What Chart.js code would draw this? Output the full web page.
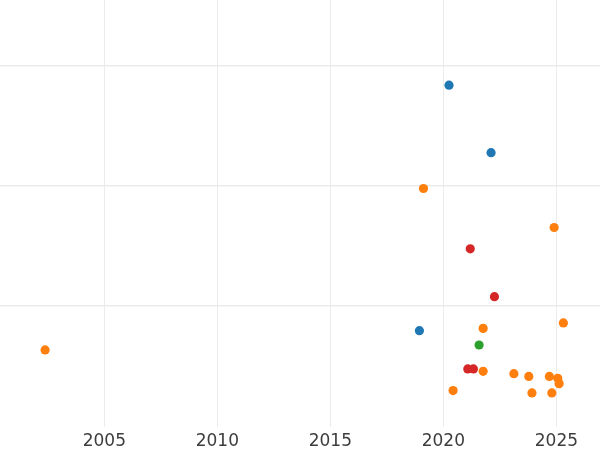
<!DOCTYPE html>
<html>
<head>
<meta charset="utf-8">
<script src="https://cdn.jsdelivr.net/npm/chart.js@4"></script>
<style>
  html, body { margin: 0; padding: 0; background: #fff; }
  #wrap { width: 600px; height: 450px; }
</style>
</head>
<body>
<div id="wrap"><canvas id="chart"></canvas></div>
<script>
// series values (x = year, y = value in arbitrary units)
const blueX = [2020.25, 2022.11, 2018.94];
const blueY = [2.836, 2.276, 0.797];

const orangeX = [2019.12, 2024.90, 2002.38, 2021.76, 2025.31, 2021.76, 2023.12, 2023.78, 2024.69, 2025.06, 2025.12, 2020.43, 2023.92, 2024.80];
const orangeY = [1.978, 1.654, 0.637, 0.816, 0.861, 0.459, 0.440, 0.417, 0.417, 0.401, 0.357, 0.299, 0.280, 0.280];

const redX = [2021.19, 2022.26, 2021.08, 2021.33];
const redY = [1.477, 1.079, 0.479, 0.479];

const greenX = [2021.58];
const greenY = [0.678];

// tick labels
const xTicks = [2005, 2010, 2015, 2020, 2025];
const yTicks = [1, 2, 3];

const toPoints = (xs, ys) => xs.map((x, i) => ({ x: x, y: ys[i] }));

const makeSet = (label, xs, ys, color) => ({
    label: label,
    data: toPoints(xs, ys),
    backgroundColor: color,
    borderWidth: 0,
    pointRadius: 4.6,
    pointHoverRadius: 4.6
});

const data = {
    datasets: [
        makeSet('blue', blueX, blueY, '#1f77b4'),
        makeSet('orange', orangeX, orangeY, '#ff7f0e'),
        makeSet('red', redX, redY, '#d62728'),
        makeSet('green', greenX, greenY, '#2ca02c')
    ]
};

const config = {
    type: 'scatter',
    data: data,
    options: {
        responsive: true,
        maintainAspectRatio: false,
        animation: false,
        layout: { autoPadding: false, padding: { left: 0, right: 0, top: 0, bottom: -7 } },
        plugins: {
            legend: { display: false },
            tooltip: { enabled: false }
        },
        scales: {
            x: {
                type: 'linear',
                min: 2000.385,
                max: 2026.93,
                afterBuildTicks: (scale) => {
                    scale.ticks = xTicks.map(v => ({ value: v }));
                },
                border: { display: false },
                grid: { color: '#ebebeb', lineWidth: 1, drawTicks: false },
                ticks: {
                    padding: 5,
                    color: '#3d3d3d',
                    font: { family: 'DejaVu Sans', size: 17 },
                    callback: (v) => String(v)
                }
            },
            y: {
                type: 'linear',
                min: 0,
                max: 3.544,
                afterBuildTicks: (scale) => {
                    scale.ticks = yTicks.map(v => ({ value: v }));
                },
                border: { display: false },
                grid: { color: '#ebebeb', lineWidth: 1.5, drawTicks: false },
                ticks: { display: false }
            }
        }
    }
};

new Chart(document.getElementById('chart'), config);
</script>
</body>
</html>
